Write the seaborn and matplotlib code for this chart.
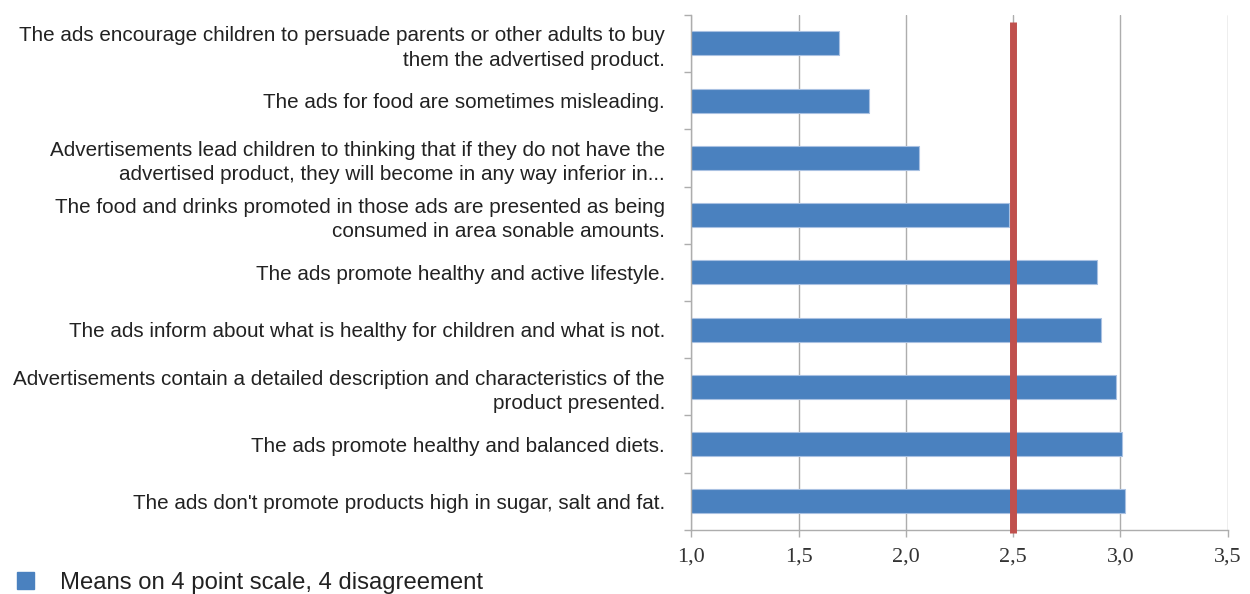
import matplotlib
matplotlib.use("Agg")
import matplotlib.pyplot as plt
import seaborn as sns
import pandas as pd
from matplotlib.patches import Patch
from matplotlib.ticker import FixedLocator

# statements, top to bottom
statements = [
    "The ads encourage children to persuade parents or other adults to buy\nthem the advertised product.",
    "The ads for food are sometimes misleading.",
    "Advertisements lead children to thinking that if they do not have the\nadvertised product, they will become in any way inferior in...",
    "The food and drinks promoted in those ads are presented as being\nconsumed in area sonable amounts.",
    "The ads promote healthy and active lifestyle.",
    "The ads inform about what is healthy for children and what is not.",
    "Advertisements contain a detailed description and characteristics of the\nproduct presented.",
    "The ads promote healthy and balanced diets.",
    "The ads don't promote products high in sugar, salt and fat.",
]
means = [1.69, 1.83, 2.06, 2.48, 2.89, 2.91, 2.98, 3.01, 3.02]
x_ticks = [1.0, 1.5, 2.0, 2.5, 3.0, 3.5]
x_tick_labels = ["1,0", "1,5", "2,0", "2,5", "3,0", "3,5"]
reference_value = 2.5
legend_label = "Means on 4 point scale, 4 disagreement"

bar_color = "#4a81bf"
line_color = "#c0504d"
grid_color = "#adadad"

df = pd.DataFrame({"statement": statements, "mean": means})

sns.set_style("white")
plt.rcParams["font.family"] = ["Liberation Sans", "DejaVu Sans"]

fig = plt.figure(figsize=(12.5, 5.94), dpi=100)
ax = fig.add_axes([0.553, 0.108, 0.429, 0.867])

sns.barplot(data=df, x="mean", y="statement", orient="h", color=bar_color,
            saturation=1, width=0.42, edgecolor="#a9c1e2", linewidth=0.8, ax=ax)

ax.set_xlim(1.0, 3.5)
ax.set_ylim(len(statements) - 0.5, -0.5)
ax.set_xticks(x_ticks)
ax.set_xticklabels(x_tick_labels, fontfamily="Liberation Serif", fontsize=16, color="#333333")
ax.grid(axis="x", color=grid_color, linewidth=1.0)
ax.set_axisbelow(True)
ax.set_xlabel("")
ax.set_ylabel("")

# category boundary ticks on the left axis
ax.yaxis.set_minor_locator(FixedLocator([i - 0.5 for i in range(len(statements) + 1)]))
ax.tick_params(axis="y", which="major", length=0, pad=19, labelsize=14.85, labelcolor="#222222")
ax.tick_params(axis="y", which="minor", length=5, width=1, color=grid_color, left=True)
ax.tick_params(axis="x", which="major", length=5, width=1, color=grid_color, bottom=True, pad=8)
for lbl in ax.get_yticklabels():
    lbl.set_horizontalalignment("right")
    lbl.set_linespacing(1.35)

for side in ["top", "right"]:
    ax.spines[side].set_visible(False)
for side in ["left", "bottom"]:
    ax.spines[side].set_color(grid_color)
    ax.spines[side].set_linewidth(1.0)

ax.axvline(reference_value, ymin=-0.006, ymax=0.986, color=line_color, linewidth=5,
           solid_capstyle="butt", clip_on=False, zorder=5)

fig.legend(handles=[Patch(facecolor=bar_color, edgecolor=bar_color)], labels=[legend_label],
           loc="lower left", bbox_to_anchor=(-0.004, -0.036), frameon=False, fontsize=17.2,
           handlelength=0.75, handleheight=0.75, handletextpad=1.05, labelcolor="#222222")

fig.savefig("out.png", dpi=100)
